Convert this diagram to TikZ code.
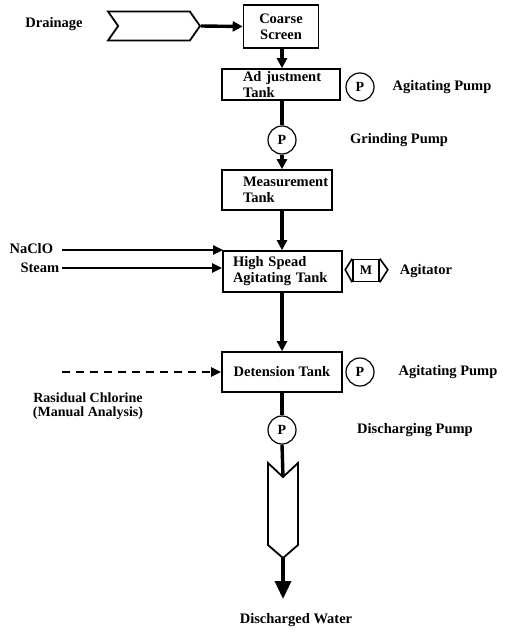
\documentclass[tikz,border=0pt]{standalone}
\usepackage{fontspec}
\setmainfont{Liberation Serif}
\usepackage{tikz}
\usetikzlibrary{arrows.meta,positioning,calc,shapes.symbols}
\tikzset{
  tankbox/.style={draw, line width=1.6pt, inner sep=0pt, align=left,
    font=\bfseries\fontsize{14.5}{16}\selectfont},
  pumpcirc/.style={draw, circle, line width=1.2pt, minimum size=28pt,
    inner sep=0pt, font=\bfseries\fontsize{14}{15}\selectfont},
  lbl/.style={font=\bfseries\fontsize{14.5}{14}\selectfont, align=center},
  flowln/.style={line width=3.4pt},
  flowarr/.style={-{Triangle[length=10pt,width=10pt]}, line width=3.4pt},
  feedarr/.style={-{Triangle[length=10pt,width=9pt]}, line width=2.4pt},
  pipeln/.style={line width=1.8pt, line join=miter},
}
\begin{document}
\begin{tikzpicture}[x=1pt, y=-1pt]
        \useasboundingbox (0,0) rectangle (504,632);
        % process tanks along the main line
        \node[tankbox, minimum width=75pt, minimum height=43pt, align=center]
          (coarse) at (281,26.5) {Coarse\\Screen};
        \node[tankbox, minimum width=118pt, minimum height=31pt,
          text width=76pt] (adjust) at (281,84.5) {\mbox{Ad justment}\\Tank};
        \node[pumpcirc] (pgrind) at (282,140) {P};
        \node[tankbox, minimum width=110pt, minimum height=40pt,
          text width=68pt] (measure) at (277,190) {\mbox{Measurement}\\Tank};
        \node[tankbox, minimum width=119pt, minimum height=41pt,
          text width=99pt] (highsp) at (282.5,271.5) {High Spead\\\mbox{Agitating Tank}};
        \node[tankbox, minimum width=120pt, minimum height=40pt, align=center]
          (deten) at (282,372) {Detension Tank};
        \node[pumpcirc] (pdisch) at (282,430) {P};
        % inlet chevron
        \node[draw, pipeln, signal, signal to=east, signal from=west,
          signal pointer angle=110, minimum width=92pt, minimum height=29pt,
          inner sep=0pt] (drain) at (154,26) {};
        % outlet pipe
        \coordinate (pipetop) at (283,477);
        \coordinate (pipetip) at (283,558);
        \draw[pipeln] (pipetop) -- ++(-15,-14) -- ++(0,82) -- (pipetip)
          -- ++(15,-13) -- ++(0,-82) -- cycle;
        % pumps and agitator beside the tanks
        \node[pumpcirc] (pagit1) at (360,87) {P};
        \node[pumpcirc] (pagit2) at (360,372) {P};
        \node[draw, line width=1.6pt, minimum width=26pt, minimum height=22pt,
          inner sep=0pt, font=\bfseries\fontsize{13}{14}\selectfont]
          (motor) at (366,270.5) {M};
        \draw[line width=1.6pt] (motor.north west) -- ++(-7,11) -- (motor.south west);
        \draw[line width=1.6pt] (motor.north east) -- ++(8,11) -- (motor.south east);
        % texts
        \node[lbl] (tdrain) at (54,24) {Drainage};
        \node[lbl] (tagit1) at (442,87) {Agitating Pump};
        \node[lbl] (tgrind) at (399,140) {Grinding Pump};
        \node[lbl, anchor=west] (tnacl) at (6,249) {NaClO};
        \node[lbl, anchor=west] (tsteam) at (17,268) {Steam};
        \node[lbl] (tagitr) at (426,271) {Agitator};
        \node[lbl] (tagit2) at (448,372) {Agitating Pump};
        \node[lbl, font=\bfseries\fontsize{14}{14.5}\selectfont]
          (tresid) at (88,406) {Rasidual Chlorine\\(Manual Analysis)};
        \node[lbl] (tdisch) at (415,430) {Discharging Pump};
        \node[lbl] (tout) at (296,620) {Discharged Water};
        \coordinate (naclstart) at (62,250);
        \coordinate (naclend) at (223,250);
        \coordinate (steamstart) at (62,268);
        \coordinate (dashstart) at (62,372);
        \coordinate (outend) at (283,599);
        % main flow
        \draw[flowarr] (drain.east) -- (coarse.west);
        \draw[flowarr] (coarse.south -| pgrind) -- (pgrind |- adjust.north);
        \draw[flowln] (adjust.south -| pgrind) -- (pgrind.north);
        \draw[flowarr] (pgrind.south) -- (pgrind |- measure.north);
        \draw[flowarr] (measure.south -| pgrind) -- (pgrind |- highsp.north);
        \draw[flowarr] (highsp.south -| pgrind) -- (pgrind |- deten.north);
        \draw[flowln] (deten.south -| pdisch) -- (pdisch.north);
        \draw[flowln] (pdisch.south) -- (pipetop);
        \draw[-{Triangle[length=18pt,width=16pt]}, line width=3.4pt]
          (pipetip) -- (outend);
        % chemical feeds
        \draw[feedarr] (naclstart) -- (naclend);
        \draw[feedarr] (steamstart) -- (steamstart -| highsp.west);
        \draw[feedarr, dash pattern=on 8pt off 6pt] (dashstart) -- (deten.west);
      \end{tikzpicture}
\end{document}
